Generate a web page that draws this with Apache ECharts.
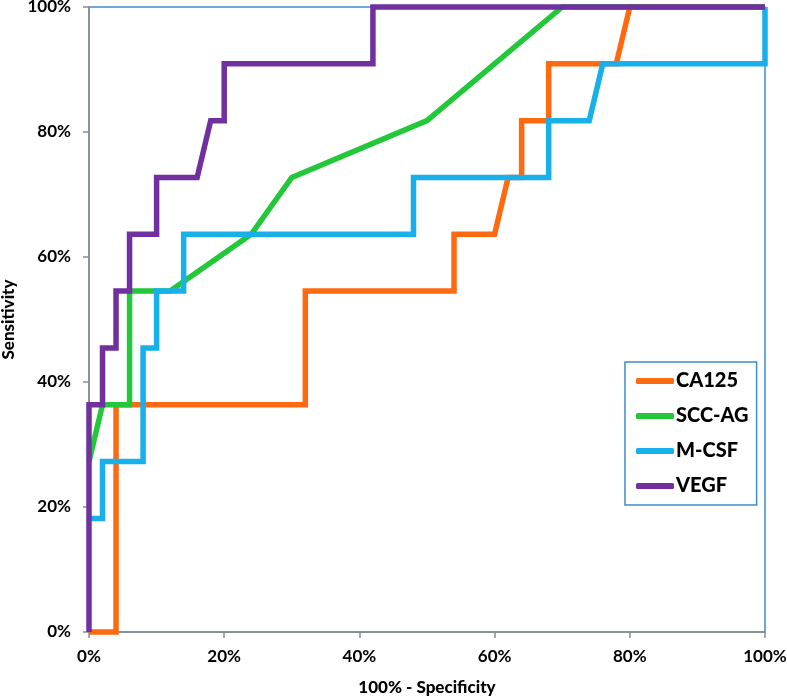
<!DOCTYPE html>
<html>
<head>
<meta charset="utf-8">
<script src="https://cdn.jsdelivr.net/npm/echarts@6/dist/echarts.min.js"></script>
<style>html,body{margin:0;padding:0;background:#fff}#c{width:787px;height:700px}</style>
</head>
<body>
<div id="c"></div>
<script>
var seriesNames = ['CA125', 'SCC-AG', 'M-CSF', 'VEGF'];
var xTicks = [0, 20, 40, 60, 80, 100];
var yTicks = [0, 20, 40, 60, 80, 100];

var ca125X = [0, 4, 4, 32, 32, 54, 54, 60, 62, 64, 64, 68, 68, 78, 80, 100];
var ca125Y = [0, 0, 36.36, 36.36, 54.55, 54.55, 63.64, 63.64, 72.73, 72.73, 81.82, 81.82, 90.91, 90.91, 100, 100];

var sccX = [0, 2, 6, 6, 12, 24, 30, 50, 70, 100];
var sccY = [27.27, 36.36, 36.36, 54.55, 54.55, 63.64, 72.73, 81.82, 100, 100];

var mcsfX = [0, 2, 2, 8, 8, 10, 10, 14, 14, 48, 48, 68, 68, 74, 76, 100, 100];
var mcsfY = [18.18, 18.18, 27.27, 27.27, 45.45, 45.45, 54.55, 54.55, 63.64, 63.64, 72.73, 72.73, 81.82, 81.82, 90.91, 90.91, 100];

var vegfX = [0, 0, 2, 2, 4, 4, 6, 6, 10, 10, 16, 18, 20, 20, 42, 42, 100];
var vegfY = [0, 36.36, 36.36, 45.45, 45.45, 54.55, 54.55, 63.64, 63.64, 72.73, 72.73, 81.82, 81.82, 90.91, 90.91, 100, 100];

var colors = ['#FF6A10', '#22C83A', '#18B0EA', '#7030A0'];

function pairs(xs, ys) { return xs.map(function (x, i) { return [x, ys[i]]; }); }
var allData = [pairs(ca125X, ca125Y), pairs(sccX, sccY), pairs(mcsfX, mcsfY), pairs(vegfX, vegfY)];

var font = 'Lato, "Open Sans", sans-serif';
var chart = echarts.init(document.getElementById('c'), null, {renderer: 'canvas'});
chart.setOption({
  animation: false,
  color: colors,
  grid: {left: 89, right: 22, top: 7, bottom: 68, containLabel: false, outerBoundsMode: 'none',
    show: true, borderColor: '#3F8CCB', borderWidth: 1.5, backgroundColor: 'transparent'},
  xAxis: {
    type: 'value', min: xTicks[0], max: xTicks[xTicks.length - 1], interval: 20,
    name: '100% - Specificity', nameLocation: 'middle', nameGap: 47,
    nameTextStyle: {fontFamily: font, fontWeight: 900, fontSize: 17, color: '#000'},
    axisLine: {show: true, lineStyle: {color: '#8C8C8C', width: 1.5}},
    axisTick: {show: true, length: 6, lineStyle: {color: '#8C8C8C', width: 1.5}},
    axisLabel: {formatter: '{value}%', fontFamily: font, fontWeight: 'bold', fontSize: 17, color: '#000', margin: 16},
    splitLine: {show: false}
  },
  yAxis: {
    type: 'value', min: yTicks[0], max: yTicks[yTicks.length - 1], interval: 20,
    name: 'Sensitivity', nameLocation: 'middle', nameGap: 65, nameRotate: 90,
    nameTextStyle: {fontFamily: font, fontWeight: 900, fontSize: 17, color: '#000'},
    axisLine: {show: true, lineStyle: {color: '#8C8C8C', width: 1.5}},
    axisTick: {show: true, length: 6, lineStyle: {color: '#8C8C8C', width: 1.5}},
    axisLabel: {formatter: '{value}%', fontFamily: font, fontWeight: 'bold', fontSize: 17, color: '#000', margin: 18},
    splitLine: {show: false}
  },
  legend: {
    orient: 'vertical', left: 625, top: 362,
    padding: [9, 8, 9, 11],
    borderColor: '#3F8CCB', borderWidth: 1.5,
    itemWidth: 38, itemHeight: 6, itemGap: 15, icon: 'roundRect',
    textStyle: {fontFamily: font, fontWeight: 900, fontSize: 20, color: '#000', padding: [0, 0, 0, -3]},
    data: seriesNames
  },
  series: seriesNames.map(function (n, i) {
    return {
      name: n, type: 'line', data: allData[i], symbol: 'none', clip: false,
      lineStyle: {width: 5.5, color: colors[i], join: 'miter'},
      itemStyle: {color: colors[i]},
      z: 2 + i
    };
  })
});
</script>
</body>
</html>
